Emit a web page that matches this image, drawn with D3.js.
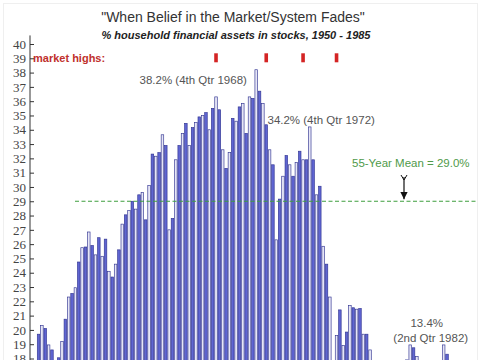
<!DOCTYPE html>
<html><head><meta charset="utf-8">
<script src="https://cdn.jsdelivr.net/npm/d3@7"></script>
<style>body{margin:0;background:#fff}svg{display:block}</style>
</head><body>
<svg id="c" width="485" height="360"></svg>
<script>
// ---- data ----
const firstYear = 1952, firstQuarter = 3, lastYear = 1985, lastQuarter = 4;
const quarters = [];
for (let yr = firstYear; yr <= lastYear; yr++) for (let q = 1; q <= 4; q++) {
  if (yr === firstYear && q < firstQuarter) continue;
  if (yr === lastYear && q > lastQuarter) continue;
  quarters.push(yr + "Q" + q);
}
const stockShare = [
  19.7, 20.3, 20.1, 18.95, 18.6, 17.8, 18.05, 19.2, 20.75, 22.3,
  22.55, 22.95, 24.75, 25.75, 25.8, 26.85, 25.9, 25.25, 26.45, 25.15,
  26.35, 24.1, 23.7, 24.6, 25.6, 27.4, 28.05, 28.35, 29.0, 28.45,
  29.45, 29.6, 27.7, 30.1, 32.3, 32.15, 32.4, 33.65, 32.9, 27.0,
  27.8, 31.9, 32.9, 33.75, 34.45, 32.9, 34.15, 34.5, 34.9, 35.0,
  35.2, 34.0, 35.5, 36.3, 35.4, 32.6, 31.3, 32.4, 34.8, 34.6,
  35.6, 35.85, 33.75, 36.3, 36.2, 38.2, 36.7, 35.85, 34.35, 32.6,
  31.55, 26.3, 29.15, 30.75, 32.2, 31.55, 30.75, 31.7, 32.5, 31.9,
  31.9, 34.2, 31.9, 29.45, 30.05, 25.85, 24.6, 22.3, 17.6, 19.6,
  21.4, 18.9, 19.85, 21.7, 21.55, 21.45, 21.5, 19.7, 19.7, 18.6,
  17.6, 17.2, 16.8, 16.5, 16.2, 16.0, 16.4, 16.9, 17.3, 17.6,
  17.9, 18.95, 18.75, 18.15, 17.4, 16.6, 15.8, 14.6, 14.0, 13.4,
  16.2, 18.95, 18.3, 17.6, 17.2, 17.0, 17.4, 17.1, 16.8, 16.9,
  17.3, 17.0, 16.7, 16.9
];
const yTickValues = d3.range(18, 41);
const marketHighs = ["1965Q4", "1969Q3", "1972Q2", "1974Q4"];
const meanShare = 29.0;
const peakQuarter = "1968Q4", peak72Quarter = "1972Q4", lowQuarter = "1982Q2";

// ---- scales ----
const svg = d3.select("#c");
const y = d3.scaleLinear().domain([18, 40]).range([358.5, 44]);
const x = d3.scaleBand().domain(quarters).range([37.3, 37.3 + quarters.length * 3.342]).paddingInner(0.24).paddingOuter(0);
const base = y(10);

// frame
svg.append("rect").attr("x", 3.5).attr("y", 3.5).attr("width", 474).attr("height", 370)
  .attr("fill", "none").attr("stroke", "#efefef");

// bars
svg.append("g").selectAll("rect").data(quarters).join("rect")
  .attr("x", d => x(d))
  .attr("y", (d, i) => y(stockShare[i]))
  .attr("width", x.bandwidth())
  .attr("height", (d, i) => Math.max(0, base - y(stockShare[i])))
  .attr("fill", (d, i) => i % 2 ? "#e6e6f6" : "#5f65d2")
  .attr("stroke", "#323592").attr("stroke-width", 0.65);

// mean line
svg.append("line").attr("x1", 75).attr("x2", 476).attr("y1", y(meanShare)).attr("y2", y(meanShare))
  .attr("stroke", "#3f9f3f").attr("stroke-width", 1.2).attr("stroke-dasharray", "4,2.5");

// y axis
const ax = svg.append("g").attr("transform", "translate(30,0)")
  .call(d3.axisLeft(y).tickValues(yTickValues).tickSizeInner(-4).tickSizeOuter(0).tickPadding(4).tickFormat(d3.format("d")));
ax.select(".domain").remove();
ax.append("line").attr("x1", 0).attr("x2", 0).attr("y1", y(40.6)).attr("y2", 362).attr("stroke", "#333");
ax.selectAll(".tick line").attr("stroke", "#333");
ax.selectAll(".tick text").attr("font-family", "'Liberation Serif', 'Times New Roman', serif").attr("font-size", 13).attr("fill", "#444");

// titles
const f = "'Liberation Sans', Arial, sans-serif";
svg.append("text").attr("x", 233).attr("y", 22).attr("text-anchor", "middle")
  .attr("font-family", f).attr("font-size", 14).attr("fill", "#333")
  .text("\"When Belief in the Market/System Fades\"");
svg.append("text").attr("x", 236).attr("y", 39).attr("text-anchor", "middle")
  .attr("font-family", f).attr("font-size", 11).attr("font-weight", "bold").attr("font-style", "italic").attr("fill", "#222")
  .text("% household financial assets in stocks, 1950 - 1985");

// market highs
svg.append("text").attr("x", 33).attr("y", y(39) + 4).attr("font-family", f)
  .attr("font-size", 11).attr("font-weight", "bold").attr("fill", "#c0302c").text("market highs:");
svg.append("g").selectAll("rect").data(marketHighs).join("rect")
  .attr("x", d => x(d) + x.bandwidth() / 2 - 1.8).attr("y", y(39) - 5).attr("width", 3.6).attr("height", 9)
  .attr("fill", "#d42424");

// annotations
svg.append("text").attr("x", x(peakQuarter) - 8).attr("y", y(38.2) + 14).attr("text-anchor", "end")
  .attr("font-family", f).attr("font-size", 11.5).attr("fill", "#555").text("38.2% (4th Qtr 1968)");
svg.append("text").attr("x", x(peak72Quarter) - 41).attr("y", y(34.2) - 3)
  .attr("font-family", f).attr("font-size", 11.5).attr("fill", "#555").text("34.2% (4th Qtr 1972)");
svg.append("text").attr("x", x(lowQuarter) - 9).attr("y", 327).attr("text-anchor", "middle")
  .attr("font-family", f).attr("font-size", 11.5).attr("fill", "#555").text("13.4%");
svg.append("text").attr("x", x(lowQuarter) - 5).attr("y", 342).attr("text-anchor", "middle")
  .attr("font-family", f).attr("font-size", 11.5).attr("fill", "#555").text("(2nd Qtr 1982)");
svg.append("text").attr("x", 352).attr("y", 167)
  .attr("font-family", f).attr("font-size", 11.5).attr("fill", "#4f9a4a").text("55-Year Mean = " + meanShare.toFixed(1) + "%");

// arrow
const defs = svg.append("defs");
defs.append("marker").attr("id", "ah").attr("viewBox", "0 0 10 10").attr("refX", 10).attr("refY", 5)
  .attr("markerWidth", 6).attr("markerHeight", 6).attr("orient", "auto")
  .append("path").attr("d", "M0,0L10,5L0,10Z").attr("fill", "#111");
svg.append("line").attr("x1", 404).attr("x2", 404).attr("y1", 177).attr("y2", y(meanShare) - 2)
  .attr("stroke", "#111").attr("stroke-width", 1.2).attr("marker-end", "url(#ah)");
svg.append("path").attr("d", "M401,175 L404,180 L407,175").attr("fill", "none").attr("stroke", "#111").attr("stroke-width", 1);
</script>
</body></html>
